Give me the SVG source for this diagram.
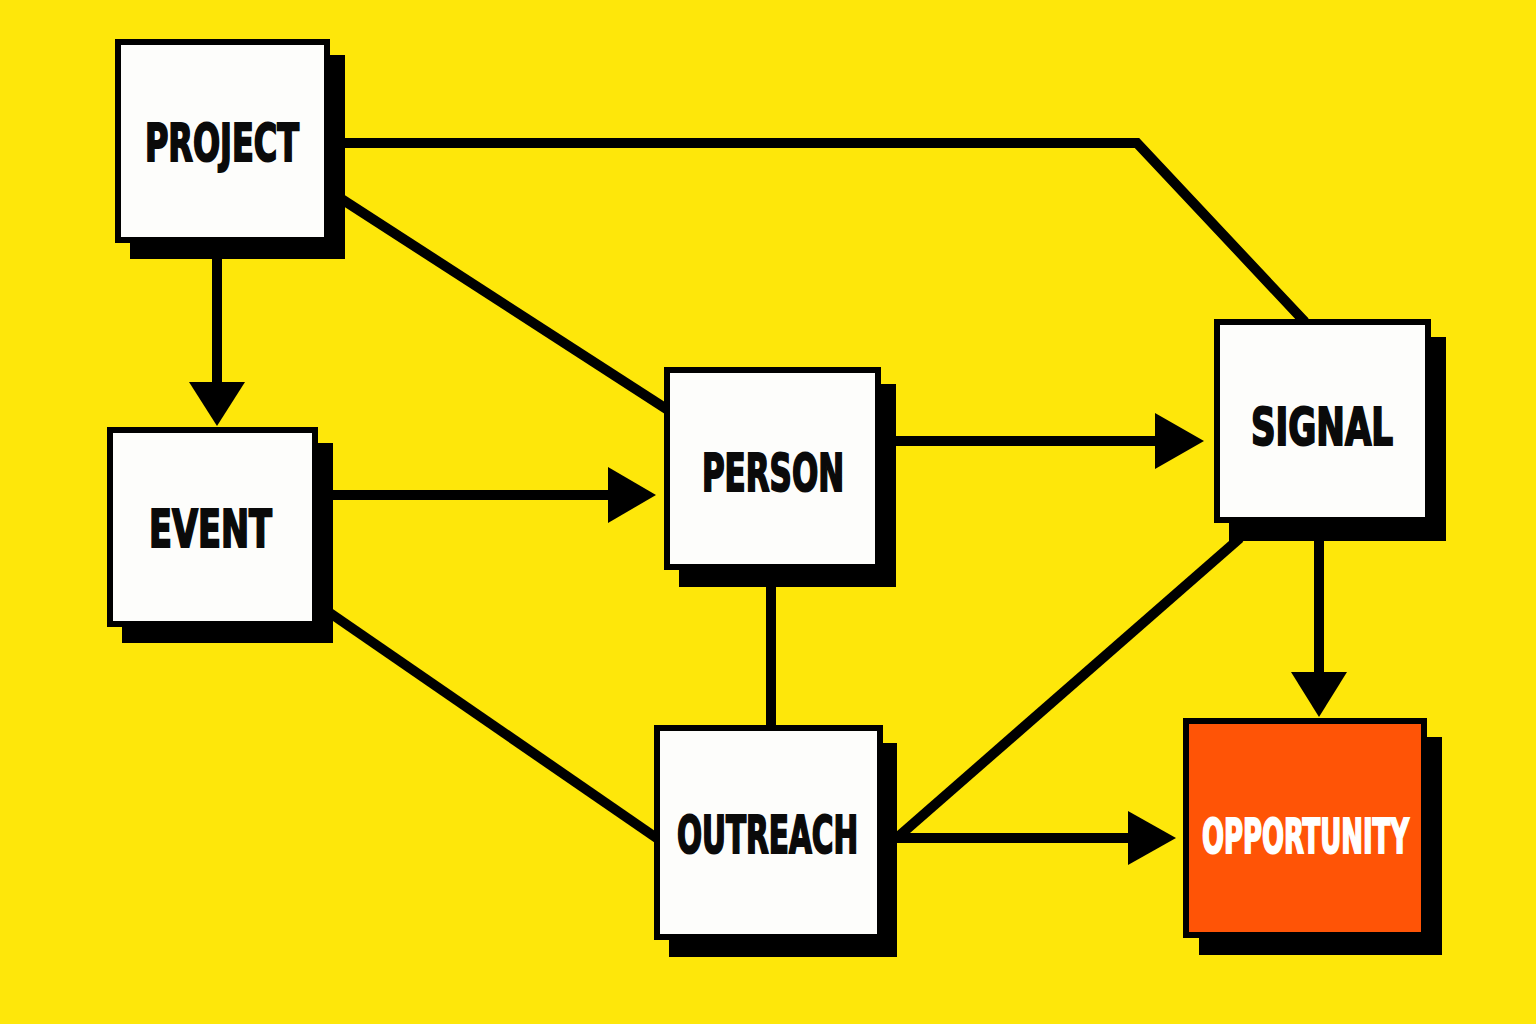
<svg xmlns="http://www.w3.org/2000/svg" width="1536" height="1024" viewBox="0 0 1536 1024">
  <defs>
    <style>
      .bg { fill: #FEE70A; }
      .shadow { fill: #000; }
      .box { fill: #FDFDFB; stroke: #000; stroke-width: 6; }
      .box.hot { fill: #FF5406; }
      .lbl { font-family: "DejaVu Sans Condensed", "DejaVu Sans", "Liberation Sans", sans-serif; font-weight: bold; font-size: 52px; fill: #0a0a0a; stroke: #0a0a0a; stroke-width: 2; text-anchor: middle; }
      .lbl.inv { fill: #FFFFFF; stroke: #FFFFFF; font-size: 48px; }
      .edge { fill: none; stroke: #000; stroke-width: 10; stroke-linejoin: miter; }
      .head { fill: #000; }
    </style>
  </defs>
  <rect class="bg" x="0" y="0" width="1536" height="1024"/>

  <g id="connectors">
    <!-- PROJECT -> EVENT -->
    <line class="edge" x1="217" y1="255" x2="217" y2="384"/>
    <polygon class="head" points="189,382 245,382 217,426"/>
    <!-- PROJECT -> SIGNAL -->
    <polyline class="edge" points="340,143 1137,143 1305,322"/>
    <!-- PROJECT -> PERSON -->
    <line class="edge" x1="340" y1="198" x2="668" y2="410"/>
    <!-- EVENT -> PERSON -->
    <line class="edge" x1="330" y1="495" x2="610" y2="495"/>
    <polygon class="head" points="608,467 608,523 656,495"/>
    <!-- PERSON -> SIGNAL -->
    <line class="edge" x1="892" y1="441" x2="1157" y2="441"/>
    <polygon class="head" points="1155,413 1155,469 1204,441"/>
    <!-- PERSON - OUTREACH -->
    <line class="edge" x1="771" y1="583" x2="771" y2="728"/>
    <!-- EVENT - OUTREACH -->
    <line class="edge" x1="330" y1="613" x2="658" y2="839"/>
    <!-- SIGNAL -> OPPORTUNITY -->
    <line class="edge" x1="1319" y1="538" x2="1319" y2="674"/>
    <polygon class="head" points="1291,672 1347,672 1319,717"/>
    <!-- OUTREACH -> OPPORTUNITY -->
    <line class="edge" x1="895" y1="838" x2="1130" y2="838"/>
    <polygon class="head" points="1128,811 1128,865 1176,838"/>
    <!-- SIGNAL - OUTREACH -->
    <line class="edge" x1="1240" y1="538" x2="899" y2="836"/>
  </g>

  <g id="node-project">
    <rect class="shadow" x="130" y="55" width="215" height="204"/>
    <rect class="box" x="118" y="42" width="209" height="198"/>
    <text class="lbl" transform="translate(222,161) scale(0.6,1)" x="0" y="0" textLength="257" lengthAdjust="spacingAndGlyphs">PROJECT</text>
  </g>

  <g id="node-event">
    <rect class="shadow" x="122" y="443" width="211" height="200"/>
    <rect class="box" x="110" y="430" width="205" height="194"/>
    <text class="lbl" transform="translate(210.5,547) scale(0.6,1)" x="0" y="0" textLength="205" lengthAdjust="spacingAndGlyphs">EVENT</text>
  </g>

  <g id="node-person">
    <rect class="shadow" x="679" y="384" width="217" height="203"/>
    <rect class="box" x="667" y="370" width="211" height="197"/>
    <text class="lbl" transform="translate(773,491) scale(0.6,1)" x="0" y="0" textLength="237" lengthAdjust="spacingAndGlyphs">PERSON</text>
  </g>

  <g id="node-signal">
    <rect class="shadow" x="1229" y="337" width="217" height="204"/>
    <rect class="box" x="1217" y="322" width="211" height="198"/>
    <text class="lbl" transform="translate(1322,445) scale(0.6,1)" x="0" y="0" textLength="237" lengthAdjust="spacingAndGlyphs">SIGNAL</text>
  </g>

  <g id="node-outreach">
    <rect class="shadow" x="669" y="743" width="228" height="214"/>
    <rect class="box" x="657" y="728" width="223" height="209"/>
    <text class="lbl" transform="translate(767.5,853) scale(0.6,1)" x="0" y="0" textLength="302" lengthAdjust="spacingAndGlyphs">OUTREACH</text>
  </g>

  <g id="node-opportunity">
    <rect class="shadow" x="1199" y="737" width="243" height="218"/>
    <rect class="box hot" x="1186" y="721" width="238" height="214"/>
    <text class="lbl inv" transform="translate(1305.5,853) scale(0.6,1)" x="0" y="0" textLength="345" lengthAdjust="spacingAndGlyphs">OPPORTUNITY</text>
  </g>
</svg>
